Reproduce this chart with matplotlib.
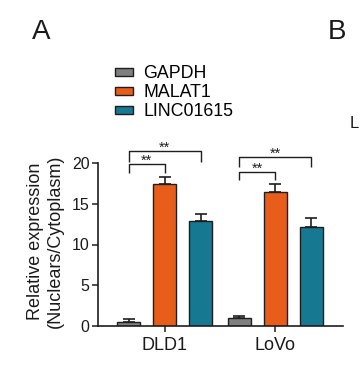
import matplotlib
matplotlib.use("Agg")
import matplotlib.pyplot as plt
import numpy as np

plt.rcParams['font.family'] = ['Liberation Sans', 'DejaVu Sans']

cell_lines = ["DLD1", "LoVo"]
genes = ["GAPDH", "MALAT1", "LINC01615"]
means = {
    "GAPDH": [0.5, 0.9],
    "MALAT1": [17.4, 16.5],
    "LINC01615": [12.9, 12.1],
}
errors = {
    "GAPDH": [0.3, 0.3],
    "MALAT1": [0.9, 0.9],
    "LINC01615": [0.9, 1.2],
}
colors = {"GAPDH": "#7f7f7f", "MALAT1": "#e95d1b", "LINC01615": "#177891"}
yticks = [0, 5, 10, 15, 20]

fig = plt.figure(figsize=(3.6, 3.69), dpi=100)
ax = fig.add_axes([98/360, 1-325.7/369, 245/360, 162.4/369])

group_centers = np.array([0.0, 3.07])
offsets = [-1, 0, 1]
width = 0.64
edge = "#1e1e1e"

for g, off in zip(genes, offsets):
    x = group_centers + off
    m = np.array(means[g])
    e = np.array(errors[g])
    ax.bar(x, m, width=width, color=colors[g], edgecolor=edge, linewidth=1.0,
           label=g, zorder=2)
    ax.errorbar(x, m, yerr=[np.zeros_like(e), e], fmt='none', ecolor=edge,
                elinewidth=1.2, capsize=4.3, capthick=1.2, zorder=1)

# significance brackets (GAPDH vs MALAT1, GAPDH vs LINC01615)
brackets = [
    # group index, target offset, top, leg bottom, label
    (0, 0, 19.91, 18.77, "**"),
    (0, 1, 21.51, 20.20, "**"),
    (1, 0, 18.97, 17.94, "**"),
    (1, 1, 20.81, 19.58, "**"),
]
for gi, tgt, top, bot, lab in brackets:
    x0 = group_centers[gi] - 1
    x1 = group_centers[gi] + tgt
    ax.plot([x0, x0, x1, x1], [bot, top, top, bot], color=edge, lw=1.0,
            clip_on=False, solid_capstyle='butt', zorder=3)
    ax.text((x0 + x1) / 2, top - 0.15, lab, ha='center', va='baseline',
            fontsize=10.5, color=edge, clip_on=False)

ax.set_xlim(-1.855, 4.95)
ax.set_ylim(0, 20)
ax.set_yticks(yticks)
ax.set_xticks(group_centers)
ax.set_xticklabels(cell_lines, fontsize=13)
ax.tick_params(axis='y', labelsize=11.5, length=4, width=1.1, pad=2, color=edge, labelcolor='#1a1a1a')
ax.tick_params(axis='x', length=4, width=1.1, pad=4, color=edge, labelcolor='#1a1a1a')
for s in ['top', 'right']:
    ax.spines[s].set_visible(False)
for s in ['left', 'bottom']:
    ax.spines[s].set_linewidth(1.2)
    ax.spines[s].set_color(edge)

ax.set_ylabel("Relative expression\n(Nuclears/Cytoplasm)", fontsize=13, linespacing=1.2,
              color='#1a1a1a')
ax.yaxis.set_label_coords((64-98)/245, 0.52)

fig.legend(loc='upper left', bbox_to_anchor=(115/360, 1-65.5/369), frameon=False,
           fontsize=12.8, handlelength=1.0, handleheight=0.34, handletextpad=0.6,
           labelspacing=0.1, borderpad=0, borderaxespad=0)

fig.text(32/360, 1-39/369, "A", fontsize=20, va='baseline', ha='left', color='#1a1a1a')
fig.text(328/360, 1-39/369, "B", fontsize=20, va='baseline', ha='left', color='#1a1a1a')
fig.text(349.5/360, 1-128/369, "L", fontsize=12, va='baseline', ha='left', color='#1a1a1a')

fig.savefig("out.png", dpi=100)
